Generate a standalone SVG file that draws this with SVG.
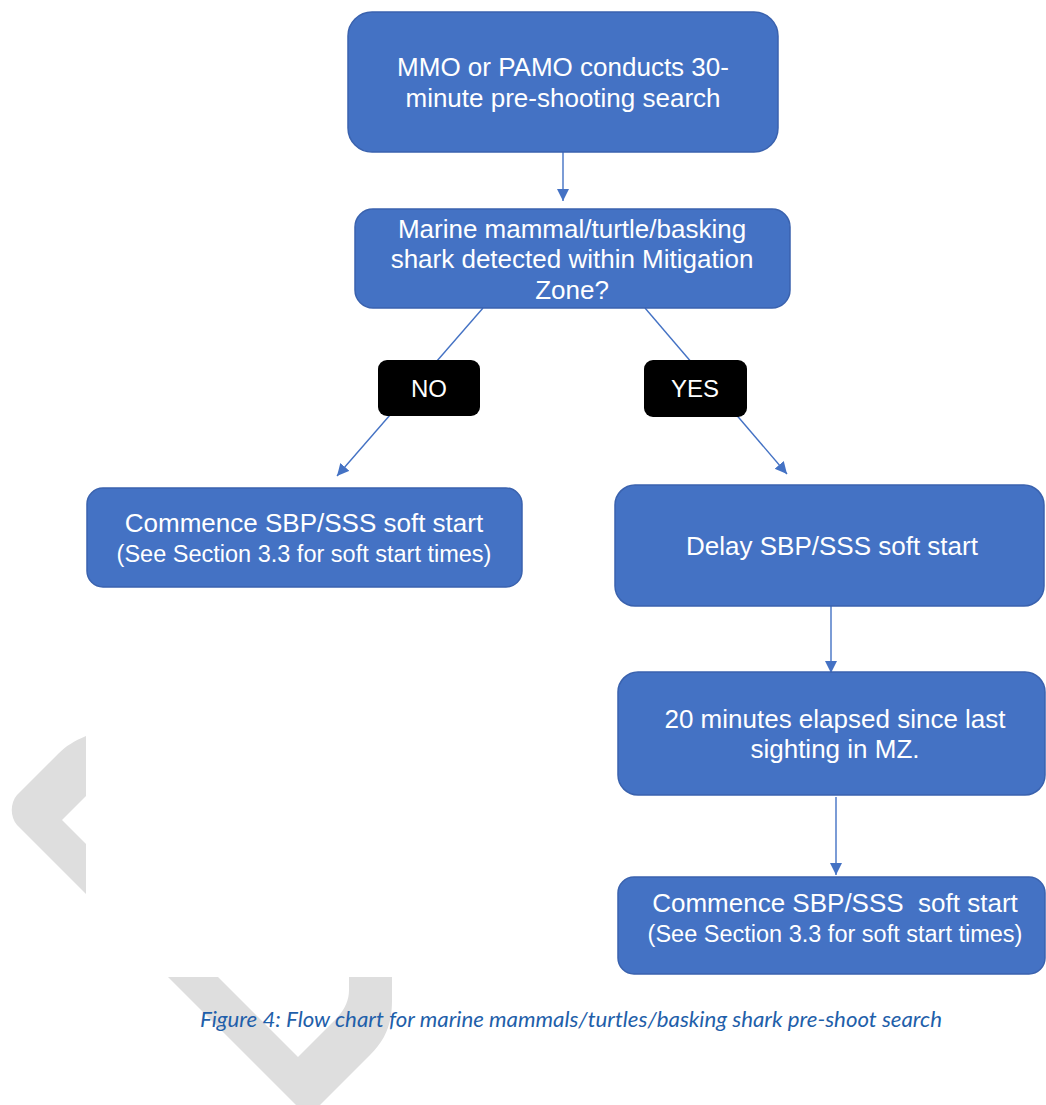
<svg xmlns="http://www.w3.org/2000/svg" width="1046" height="1105" viewBox="0 0 1046 1105">
<defs>
<style>
.box{fill:#4472C4;stroke:#3A62AE;stroke-width:1.5}
.lbl{fill:#000000}
.t{font-family:"Liberation Sans",Arial,sans-serif;fill:#FFFFFF;text-anchor:middle;font-size:26px}
.s{font-size:23.5px}
.lt{font-size:24px}
.con{stroke:#4472C4;stroke-width:1.4;fill:none}
.wm{fill:#DEDEDE}
.cap{font-family:Lato,"Open Sans","Liberation Sans",sans-serif;font-style:italic;font-size:21px;fill:#1F5FAA}
</style>
<marker id="ah" markerUnits="userSpaceOnUse" markerWidth="13" markerHeight="13" refX="12" refY="6" orient="auto">
<path d="M0,0 L12,6 L0,12 Z" fill="#4472C4"/>
</marker>
</defs>
<rect width="1046" height="1105" fill="#FFFFFF"/>
<g id="watermark">
<path class="wm" d="M86,736 C74,741 66,746 58,754 L17,795 C10,803 10,817 17,825 L86,894 L86,844 L62,820 L86,796 Z"/>
<path class="wm" d="M168,977 L218,977 L298,1057 L335,1020 C345,1010 349,1000 349,990 L349,977 L392,977 L392,1000 C392,1025 385,1040 370,1055 L320,1105 L296,1105 Z"/>
</g>
<g id="connectors">
<line class="con" x1="563" y1="152" x2="563" y2="201" marker-end="url(#ah)"/>
<line class="con" x1="483" y1="308" x2="337" y2="476" marker-end="url(#ah)"/>
<line class="con" x1="645" y1="308" x2="787" y2="474" marker-end="url(#ah)"/>
<line class="con" x1="831" y1="606" x2="831" y2="673" marker-end="url(#ah)"/>
<line class="con" x1="836" y1="797" x2="836" y2="875" marker-end="url(#ah)"/>
</g>
<g id="n1">
<rect class="box" x="348" y="12" width="430" height="140" rx="24"/>
<text class="t" x="563" y="76">MMO or PAMO conducts 30-</text>
<text class="t" x="563" y="107">minute pre-shooting search</text>
</g>
<g id="n2">
<rect class="box" x="355" y="209" width="435" height="99" rx="18"/>
<text class="t" x="572" y="238">Marine mammal/turtle/basking</text>
<text class="t" x="572" y="268">shark detected within Mitigation</text>
<text class="t" x="572" y="299">Zone?</text>
</g>
<g id="no">
<rect class="lbl" x="378" y="360" width="102" height="56" rx="9"/>
<text class="t lt" x="429" y="397">NO</text>
</g>
<g id="yes">
<rect class="lbl" x="644" y="360" width="103" height="57" rx="9"/>
<text class="t lt" x="695" y="397">YES</text>
</g>
<g id="n3">
<rect class="box" x="87" y="488" width="435" height="99" rx="16"/>
<text class="t" x="304" y="532">Commence SBP/SSS soft start</text>
<text class="t s" x="304" y="562">(See Section 3.3 for soft start times)</text>
</g>
<g id="n4">
<rect class="box" x="615" y="485" width="429" height="121" rx="20"/>
<text class="t" x="832" y="555">Delay SBP/SSS soft start</text>
</g>
<g id="n5">
<rect class="box" x="618" y="672" width="427" height="123" rx="20"/>
<text class="t" x="835" y="728">20 minutes elapsed since last</text>
<text class="t" x="835" y="758">sighting in MZ.</text>
</g>
<g id="n6">
<rect class="box" x="618" y="877" width="427" height="97" rx="16"/>
<text class="t" x="835" y="912" xml:space="preserve">Commence SBP/SSS  soft start</text>
<text class="t s" x="835" y="942">(See Section 3.3 for soft start times)</text>
</g>
<g id="caption">
<text class="cap" x="200" y="1027" textLength="742" lengthAdjust="spacingAndGlyphs">Figure 4: Flow chart for marine mammals/turtles/basking shark pre-shoot search</text>
</g>
</svg>
